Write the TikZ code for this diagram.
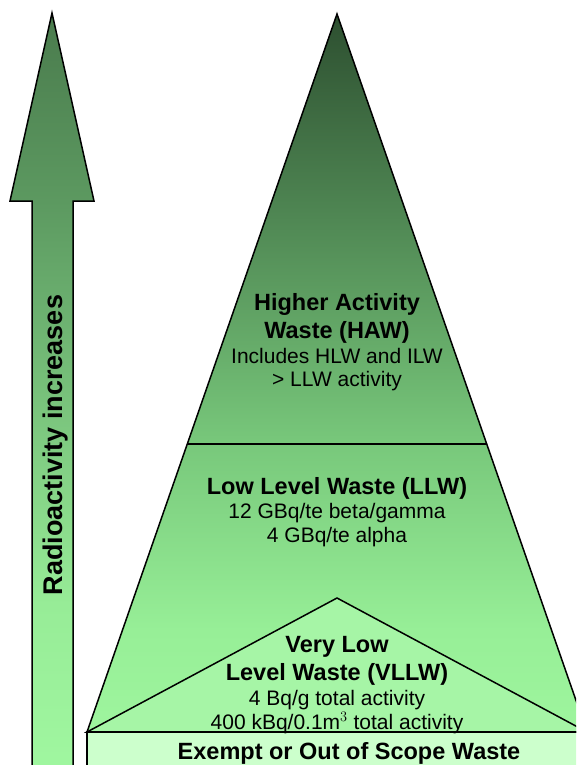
\documentclass[tikz,border=0pt]{standalone}
\usepackage{fontspec}
\setmainfont{Liberation Sans}
\usetikzlibrary{calc}

\definecolor{pyrtop}{HTML}{2D4F30}
\definecolor{pyrupper}{HTML}{4E8552}
\definecolor{pyrmid}{HTML}{78C87B}
\definecolor{pyrlow}{HTML}{97EF97}
\definecolor{pyrbot}{HTML}{9EF59E}
\definecolor{arrtop}{HTML}{4A7B4D}
\definecolor{arrupper}{HTML}{5C9960}
\definecolor{arrmid}{HTML}{6AAE6E}
\definecolor{arrlow}{HTML}{97EC97}
\definecolor{arrbot}{HTML}{A0F7A0}
\definecolor{vllwfill}{HTML}{A6F5A6}
\definecolor{exemptfill}{HTML}{CCFFCC}

\pgfdeclareverticalshading{pyramidshade}{100bp}{color(0bp)=(pyrbot); color(25bp)=(pyrbot); color(32.1bp)=(pyrlow); color(45.06bp)=(pyrmid); color(61.35bp)=(pyrupper); color(75bp)=(pyrtop); color(100bp)=(pyrtop)}
\pgfdeclareverticalshading{arrowshade}{100bp}{color(0bp)=(arrbot); color(25bp)=(arrbot); color(36.23bp)=(arrlow); color(56.04bp)=(arrmid); color(62.65bp)=(arrupper); color(75bp)=(arrtop); color(100bp)=(arrtop)}

\begin{document}
\begin{tikzpicture}[x=1pt, y=-1pt, line width=1.5pt,
	title/.style={font=\fontsize{23.5}{27.5}\selectfont\bfseries, align=center, inner sep=0pt},
	detail/.style={font=\fontsize{21}{23.5}\selectfont, align=center, inner sep=0pt}]
	\useasboundingbox (0,0) rectangle (576,765);
	\clip (0,0) rectangle (576,765);
	% arrow on the left
	\shadedraw[shading=arrowshade] (32,775) -- (32,201) -- (10,201) -- (52,13) -- (94,201) -- (73,201) -- (73,775) -- cycle;
	\node (rise) [rotate=90, inner sep=0pt, font=\fontsize{27}{30}\selectfont\bfseries] at (55.5,445) {Radioactivity increases};
	% pyramid
	\coordinate (apex) at (337,14);
	\coordinate (bl) at (87,732);
	\coordinate (br) at (587,732);
	\shadedraw[shading=pyramidshade] (apex) -- (br) -- (bl) -- cycle;
	\draw ($(apex)!0.599!(bl)$) -- ($(apex)!0.599!(br)$);
	\filldraw[fill=vllwfill] (337,598) -- (br) -- (bl) -- cycle;
	\filldraw[fill=exemptfill] (bl) rectangle (600,790);
	% labels
	\node (haw) [title] at (337,318.5) {Higher Activity\\Waste (HAW)};
	\node (hawtxt) [detail] at (337,369.5) {Includes HLW and ILW\\> LLW activity};
	\node (llw) [title] at (337,488) {Low Level Waste (LLW)};
	\node (llwtxt) [detail] at (337,525) {12 GBq/te beta/gamma\\4 GBq/te alpha};
	\node (vllw) [title] at (337,661) {Very Low\\Level Waste (VLLW)};
	\node (vllwtxt) [detail] at (337,712) {4 Bq/g total activity\\400 kBq/0.1m$^3$ total activity};
	\node (exempt) [title] at (349,753) {Exempt or Out of Scope Waste};
\end{tikzpicture}
\end{document}
